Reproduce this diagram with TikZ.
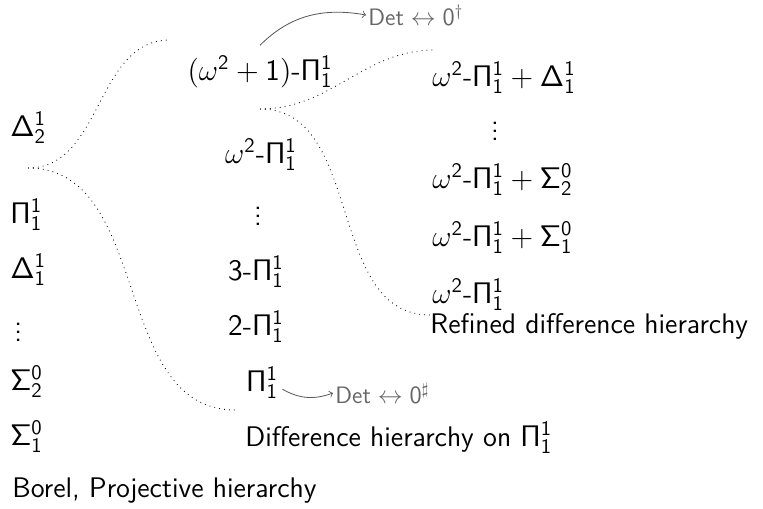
\documentclass[tikz,border=0pt]{standalone}
\usepackage{amsmath}
\usetikzlibrary{positioning,calc}
\renewcommand{\familydefault}{\sfdefault}
\newcommand{\hPi}{\mathsf{\Pi^1_1}}
\newcommand{\wPi}{\omega^{\mathsf{2}}\text{-}\hPi}

\begin{document}
\begin{tikzpicture}[x=0.017cm,y=-0.017cm,
  font=\fontsize{13.7}{16}\selectfont,
  lvl/.style={inner sep=0pt},
  zoomline/.style={dotted},
  detarr/.style={->,black!65},
  det/.style={inner sep=1pt,text=black!60,font=\fontsize{11.5}{13}\selectfont}]
\useasboundingbox (0,0) rectangle (763,509);
% ---------- left column: Borel / projective ----------
\node[lvl,anchor=west] (d12) at (10,128) {$\mathsf{\Delta^1_2}$};
\node[lvl,anchor=west] (p11) at (10,215) {$\mathsf{\Pi^1_1}$};
\node[lvl,anchor=west] (d11) at (10,270) {$\mathsf{\Delta^1_1}$};
\node[lvl,anchor=west] (ldots) at (14,326) {$\vdots$};
\node[lvl,anchor=west] (s02) at (10,382) {$\mathsf{\Sigma^0_2}$};
\node[lvl,anchor=west] (s01) at (10,437) {$\mathsf{\Sigma^0_1}$};
\node[lvl,anchor=west] (borel) at (12,491) {Borel, Projective hierarchy};
% ---------- middle column: difference hierarchy ----------
\node[lvl] (top) at (260,72) {$(\omega^{\mathsf{2}}+\mathsf{1})\text{-}\hPi$};
\node[lvl] (w2) at (261,155) {$\wPi$};
\node[lvl] (mdots) at (258,210) {$\vdots$};
\node[lvl] (three) at (256,272) {$\mathsf{3}\text{-}\hPi$};
\node[lvl] (two) at (256,327) {$\mathsf{2}\text{-}\hPi$};
\node[lvl] (one) at (262,383) {$\hPi$};
\node[lvl,anchor=west] (diff) at (245,438) {Difference hierarchy on $\hPi$};
% ---------- right column: refined ----------
\node[lvl,anchor=west] (rd) at (432,78) {$\wPi+\mathsf{\Delta^1_1}$};
\node[lvl] (rdots) at (495,125) {$\vdots$};
\node[lvl,anchor=west] (rs2) at (432,180) {$\wPi+\mathsf{\Sigma^0_2}$};
\node[lvl,anchor=west] (rs1) at (432,238) {$\wPi+\mathsf{\Sigma^0_1}$};
\node[lvl,anchor=west] (rw) at (432,295) {$\wPi$};
\node[lvl,anchor=west] (refined) at (430,326) {Refined difference hierarchy};
% ---------- determinacy ----------
\node[det,anchor=west] (dagger) at (366,15) {$\text{Det}\leftrightarrow\mathsf{0}^\dagger$};
\node[det,anchor=west] (sharp) at (333,393) {$\text{Det}\leftrightarrow\mathsf{0}^\sharp$};
\draw[detarr] ([yshift=5pt]top.north) to[out=45,in=170] (dagger.west);
\draw[detarr] ([xshift=2pt,yshift=-3pt]one.east) to[out=-30,in=200] (sharp.west);
% ---------- zoom brackets ----------
\coordinate (tipa) at (28,168);
\coordinate (tipa1) at (170,40);
\coordinate (tipa2) at (235,410);
\coordinate (tipb) at (260,109);
\coordinate (tipb1) at (435,50);
\coordinate (tipb2) at (430,315);
\draw[zoomline] (tipa) to[out=0,in=180] (tipa1);
\draw[zoomline] (tipa) to[out=0,in=180] (tipa2);
\draw[zoomline] (tipb) to[out=0,in=180] (tipb1);
\draw[zoomline] (tipb) to[out=0,in=180] (tipb2);
\end{tikzpicture}
\end{document}
